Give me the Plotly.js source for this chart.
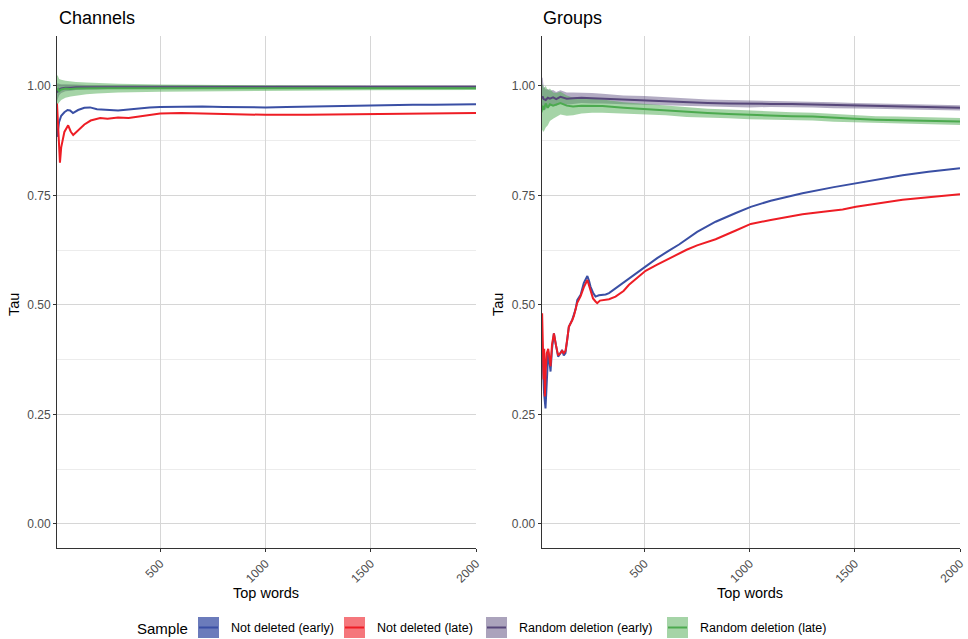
<!DOCTYPE html>
<html>
<head>
<meta charset="utf-8">
<script src="https://cdn.plot.ly/plotly-3.0.1.min.js"></script>
<style>html,body{margin:0;padding:0;background:#fff;}#chart{width:968px;height:639px;}</style>
</head>
<body>
<div id="chart"></div>
<script>
// ---------- DATA ----------
const panelTitles = ["Channels", "Groups"];
const seriesNames = ["Not deleted (early)", "Not deleted (late)", "Random deletion (early)", "Random deletion (late)"];
const xTicks = [500, 1000, 1500, 2000];
const yTicks = [0, 0.25, 0.5, 0.75, 1.0];
const yTickText = ["0.00", "0.25", "0.50", "0.75", "1.00"];

// Channels panel
const chBlueX = [10, 15, 20, 30, 45, 60, 72, 86, 110, 140, 167, 200, 250, 300, 350, 400, 450, 500, 600, 700, 800, 900, 1000, 1100, 1200, 1300, 1400, 1500, 1600, 1700, 1800, 1900, 2000];
const chBlueY = [0.884, 0.905, 0.918, 0.932, 0.940, 0.945, 0.944, 0.938, 0.945, 0.950, 0.951, 0.947, 0.945, 0.944, 0.946, 0.949, 0.951, 0.952, 0.953, 0.953, 0.952, 0.951, 0.951, 0.952, 0.953, 0.954, 0.955, 0.956, 0.956, 0.957, 0.957, 0.958, 0.958];
const chRedX = [10, 15, 20, 24, 30, 45, 63, 75, 87, 110, 140, 170, 215, 250, 300, 350, 400, 450, 500, 600, 700, 800, 900, 1000, 1200, 1400, 1600, 1800, 2000];
const chRedY = [0.960, 0.900, 0.845, 0.825, 0.860, 0.895, 0.910, 0.896, 0.888, 0.899, 0.912, 0.921, 0.927, 0.925, 0.928, 0.927, 0.930, 0.934, 0.937, 0.938, 0.937, 0.935, 0.934, 0.934, 0.934, 0.935, 0.936, 0.937, 0.938];
const chRandX = [10, 15, 20, 30, 50, 75, 100, 150, 200, 300, 500, 750, 1000, 1500, 2000];
const chPurpleY = [0.985, 0.990, 0.992, 0.994, 0.996, 0.996, 0.997, 0.997, 0.997, 0.998, 0.998, 0.998, 0.998, 0.998, 0.998];
const chPurpleLo = [0.965, 0.974, 0.979, 0.984, 0.988, 0.989, 0.991, 0.992, 0.992, 0.994, 0.994, 0.995, 0.995, 0.995, 0.995];
const chPurpleHi = [1.005, 1.006, 1.005, 1.004, 1.004, 1.003, 1.003, 1.002, 1.002, 1.002, 1.002, 1.001, 1.001, 1.001, 1.001];
const chGreenY = [0.990, 0.993, 0.988, 0.992, 0.994, 0.993, 0.994, 0.995, 0.995, 0.995, 0.995, 0.995, 0.995, 0.995, 0.995];
const chGreenLo = [0.955, 0.960, 0.962, 0.968, 0.973, 0.976, 0.978, 0.981, 0.983, 0.985, 0.987, 0.988, 0.989, 0.990, 0.991];
const chGreenHi = [1.025, 1.022, 1.016, 1.014, 1.012, 1.010, 1.009, 1.008, 1.007, 1.005, 1.003, 1.002, 1.001, 1.000, 0.999];

// Groups panel
const grBlueX = [10, 13, 17, 22, 29, 35, 42, 48, 53, 60, 69, 78, 89, 100, 108, 116, 124, 132, 140, 156, 164, 172, 180, 196, 211, 220, 228, 236, 243, 255, 267, 283, 299, 315, 331, 362, 400, 426, 460, 505, 560, 616, 664, 750, 838, 934, 1005, 1100, 1251, 1400, 1505, 1600, 1727, 1850, 2000];
const grBlueY = [0.450, 0.400, 0.350, 0.300, 0.264, 0.330, 0.393, 0.370, 0.348, 0.400, 0.435, 0.410, 0.382, 0.390, 0.397, 0.385, 0.390, 0.420, 0.450, 0.466, 0.477, 0.490, 0.511, 0.523, 0.550, 0.560, 0.566, 0.555, 0.542, 0.528, 0.519, 0.522, 0.523, 0.524, 0.527, 0.538, 0.552, 0.561, 0.573, 0.589, 0.607, 0.624, 0.638, 0.667, 0.690, 0.710, 0.724, 0.738, 0.755, 0.769, 0.778, 0.786, 0.796, 0.804, 0.812];
const grRedX = [10, 13, 16, 20, 23, 26, 30, 35, 42, 48, 53, 60, 69, 78, 89, 100, 108, 116, 124, 132, 140, 156, 164, 172, 180, 196, 211, 228, 236, 243, 255, 267, 275, 288, 299, 315, 331, 362, 400, 426, 460, 505, 560, 616, 648, 700, 750, 838, 934, 1005, 1100, 1251, 1350, 1442, 1505, 1600, 1727, 1850, 2000];
const grRedY = [0.400, 0.481, 0.420, 0.330, 0.400, 0.291, 0.350, 0.390, 0.400, 0.370, 0.360, 0.410, 0.435, 0.410, 0.385, 0.390, 0.395, 0.390, 0.395, 0.420, 0.450, 0.465, 0.475, 0.490, 0.505, 0.520, 0.540, 0.557, 0.545, 0.532, 0.515, 0.508, 0.504, 0.510, 0.511, 0.512, 0.513, 0.519, 0.532, 0.546, 0.560, 0.578, 0.592, 0.606, 0.614, 0.626, 0.636, 0.650, 0.670, 0.685, 0.694, 0.707, 0.713, 0.718, 0.724, 0.731, 0.740, 0.746, 0.753];
const grRandX = [10, 15, 20, 30, 40, 50, 65, 80, 100, 130, 160, 200, 250, 300, 400, 500, 600, 700, 800, 900, 1000, 1100, 1200, 1300, 1400, 1500, 1600, 1700, 1800, 1900, 2000];
const grPurpleY = [0.972, 0.976, 0.970, 0.968, 0.973, 0.971, 0.974, 0.970, 0.975, 0.971, 0.972, 0.973, 0.972, 0.971, 0.968, 0.967, 0.965, 0.963, 0.961, 0.960, 0.959, 0.959, 0.959, 0.958, 0.956, 0.955, 0.954, 0.953, 0.952, 0.951, 0.950];
const grPurpleLo = [0.942, 0.948, 0.945, 0.946, 0.953, 0.953, 0.957, 0.954, 0.960, 0.957, 0.959, 0.961, 0.960, 0.960, 0.958, 0.957, 0.956, 0.954, 0.953, 0.952, 0.951, 0.952, 0.952, 0.951, 0.949, 0.949, 0.948, 0.947, 0.946, 0.945, 0.944];
const grPurpleHi = [1.015, 1.020, 1.000, 0.992, 0.993, 0.989, 0.991, 0.986, 0.990, 0.985, 0.985, 0.985, 0.984, 0.982, 0.978, 0.977, 0.974, 0.972, 0.969, 0.968, 0.967, 0.966, 0.966, 0.965, 0.963, 0.961, 0.960, 0.959, 0.958, 0.957, 0.956];
const grGreenY = [0.940, 0.955, 0.945, 0.960, 0.950, 0.958, 0.955, 0.957, 0.961, 0.955, 0.953, 0.955, 0.955, 0.954, 0.950, 0.947, 0.944, 0.940, 0.938, 0.936, 0.934, 0.932, 0.931, 0.930, 0.927, 0.925, 0.923, 0.922, 0.921, 0.920, 0.919];
const grGreenLo = [0.890, 0.900, 0.895, 0.905, 0.910, 0.920, 0.925, 0.930, 0.935, 0.932, 0.933, 0.937, 0.939, 0.939, 0.937, 0.935, 0.933, 0.929, 0.928, 0.926, 0.924, 0.923, 0.922, 0.921, 0.918, 0.917, 0.915, 0.914, 0.913, 0.912, 0.911];
const grGreenHi = [0.995, 1.005, 0.995, 1.000, 0.990, 0.994, 0.985, 0.984, 0.987, 0.978, 0.973, 0.973, 0.971, 0.969, 0.963, 0.959, 0.955, 0.951, 0.948, 0.946, 0.944, 0.941, 0.940, 0.939, 0.936, 0.933, 0.931, 0.930, 0.929, 0.928, 0.927];

// ---------- STYLE ----------
const FONT = "Liberation Sans, Arial, Helvetica, sans-serif";
const lineColors = ["#3a4fa4", "#ee1d25", "#57477a", "#4caa4f"];
const keyFills = ["rgba(58,79,164,0.75)", "rgba(238,29,37,0.6)", "rgba(87,71,122,0.5)", "rgba(76,170,79,0.5)"];
const bandFills = ["rgba(87,71,122,0.45)", "rgba(76,170,79,0.5)"];
const W = 968, H = 639;
const px = x => x / W;
const py = y => 1 - y / H;

function band(x, lo, hi, fill, xa, ya) {
  return [
    {x: x, y: lo, type: "scatter", mode: "lines", line: {width: 0, color: fill}, xaxis: xa, yaxis: ya, showlegend: false, hoverinfo: "skip"},
    {x: x, y: hi, type: "scatter", mode: "lines", line: {width: 0, color: fill}, fill: "tonexty", fillcolor: fill, xaxis: xa, yaxis: ya, showlegend: false, hoverinfo: "skip"}
  ];
}
function line(x, y, c, xa, ya, name) {
  return {x: x, y: y, type: "scatter", mode: "lines", name: name, line: {width: 2, color: c}, xaxis: xa, yaxis: ya, showlegend: false};
}

const traces = [].concat(
  band(chRandX, chPurpleLo, chPurpleHi, bandFills[0], "x", "y"),
  band(chRandX, chGreenLo, chGreenHi, bandFills[1], "x", "y"),
  band(grRandX, grPurpleLo, grPurpleHi, bandFills[0], "x2", "y2"),
  band(grRandX, grGreenLo, grGreenHi, bandFills[1], "x2", "y2"),
  [
    line(chBlueX, chBlueY, lineColors[0], "x", "y", seriesNames[0]),
    line(chRedX, chRedY, lineColors[1], "x", "y", seriesNames[1]),
    line(chRandX, chPurpleY, lineColors[2], "x", "y", seriesNames[2]),
    line(chRandX, chGreenY, lineColors[3], "x", "y", seriesNames[3]),
    line(grBlueX, grBlueY, lineColors[0], "x2", "y2", seriesNames[0]),
    line(grRedX, grRedY, lineColors[1], "x2", "y2", seriesNames[1]),
    line(grRandX, grPurpleY, lineColors[2], "x2", "y2", seriesNames[2]),
    line(grRandX, grGreenY, lineColors[3], "x2", "y2", seriesNames[3])
  ]
);

function xAxis(dom, anchor) {
  return {
    domain: dom, anchor: anchor, range: [10, 2000], tickmode: "array", tickvals: xTicks,
    tickangle: -45, tickfont: {family: FONT, size: 12, color: "#4d4d4d"},
    showgrid: true, gridcolor: "#d6d6d6", gridwidth: 1, zeroline: false,
    showline: true, linecolor: "#333333", linewidth: 1,
    ticks: "outside", ticklen: 3, tickcolor: "#333333", automargin: false
  };
}
function yAxis(dom, anchor) {
  return {
    domain: dom, anchor: anchor, range: [-0.0548, 1.114], tickmode: "array", tickvals: yTicks, ticktext: yTickText,
    tickfont: {family: FONT, size: 12, color: "#4d4d4d"},
    showgrid: true, gridcolor: "#d6d6d6", gridwidth: 1, zeroline: false,
    minor: {tickmode: "array", tickvals: [0.125, 0.375, 0.625, 0.875], showgrid: true, gridcolor: "#ececec", gridwidth: 1, ticks: ""},
    showline: true, linecolor: "#333333", linewidth: 1,
    ticks: "outside", ticklen: 3, tickcolor: "#333333", automargin: false
  };
}

const yDom = [py(548), py(36)];
const annotations = [
  {text: panelTitles[0], x: px(57), y: py(18), xref: "paper", yref: "paper", xanchor: "left", yanchor: "middle", showarrow: false, font: {family: FONT, size: 18, color: "#000"}},
  {text: panelTitles[1], x: px(541), y: py(18), xref: "paper", yref: "paper", xanchor: "left", yanchor: "middle", showarrow: false, font: {family: FONT, size: 18, color: "#000"}},
  {text: "Tau", x: px(14), y: py(305), xref: "paper", yref: "paper", textangle: -90, xanchor: "center", yanchor: "middle", showarrow: false, font: {family: FONT, size: 14.5, color: "#000"}},
  {text: "Tau", x: px(498), y: py(305), xref: "paper", yref: "paper", textangle: -90, xanchor: "center", yanchor: "middle", showarrow: false, font: {family: FONT, size: 14.5, color: "#000"}},
  {text: "Top words", x: px(266), y: py(593), xref: "paper", yref: "paper", xanchor: "center", yanchor: "middle", showarrow: false, font: {family: FONT, size: 14.5, color: "#000"}},
  {text: "Top words", x: px(750), y: py(593), xref: "paper", yref: "paper", xanchor: "center", yanchor: "middle", showarrow: false, font: {family: FONT, size: 14.5, color: "#000"}},
  {text: "Sample", x: px(135), y: py(628), xref: "paper", yref: "paper", xanchor: "left", yanchor: "middle", showarrow: false, font: {family: FONT, size: 15, color: "#000"}}
];
const keyX = [198, 344, 486, 667];
const shapes = [];
seriesNames.forEach((n, i) => {
  const x0 = keyX[i], x1 = keyX[i] + 21;
  shapes.push({type: "rect", xref: "paper", yref: "paper", x0: px(x0), x1: px(x1), y0: py(638), y1: py(617), fillcolor: keyFills[i], line: {width: 0}, layer: "above"});
  shapes.push({type: "line", xref: "paper", yref: "paper", x0: px(x0 + 1), x1: px(x1 - 1), y0: py(627.5), y1: py(627.5), line: {color: lineColors[i], width: 2}, layer: "above"});
  annotations.push({text: n, x: px(x1 + 10), y: py(628), xref: "paper", yref: "paper", xanchor: "left", yanchor: "middle", showarrow: false, font: {family: FONT, size: 12.5, color: "#000"}});
});

const layout = {
  width: W, height: H,
  margin: {l: 0, r: 0, t: 0, b: 0, pad: 0},
  paper_bgcolor: "#ffffff", plot_bgcolor: "#ffffff",
  showlegend: false,
  font: {family: FONT},
  xaxis: xAxis([px(57), px(476)], "y"),
  yaxis: yAxis(yDom, "x"),
  xaxis2: xAxis([px(541.5), px(960)], "y2"),
  yaxis2: yAxis(yDom, "x2"),
  annotations: annotations,
  shapes: shapes
};

Plotly.newPlot("chart", traces, layout, {displayModeBar: false, staticPlot: true});
</script>
</body>
</html>
